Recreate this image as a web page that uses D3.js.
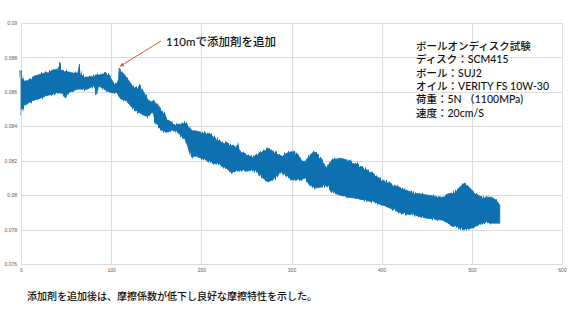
<!DOCTYPE html>
<html>
<head>
<meta charset="utf-8">
<script src="https://cdn.jsdelivr.net/npm/d3@7/dist/d3.min.js"></script>
<style>
  html, body { margin: 0; padding: 0; background: #ffffff; }
  svg { display: block; }
  .jp { font-family: Lato, "Noto Sans CJK JP", sans-serif; fill: #111111; font-weight: 500; }
  .tick-label { font-family: "Liberation Sans", Arial, sans-serif; font-size: 5px; fill: #595959; }
</style>
</head>
<body>
<svg id="chart" width="573" height="322"></svg>
<script>
// Sliding distance (m) at which the friction band was sampled
const distance = [0, 1, 3, 8, 15, 22, 30, 36, 41, 43, 45, 49, 52, 57, 63, 65, 67, 71, 76, 82, 84, 86, 90, 93, 98,
  102, 106, 108, 109, 111, 115, 119, 122, 126, 129, 132, 136, 141, 145, 147, 149, 153, 156, 160, 163, 167, 171, 176,
  182, 186, 189, 194, 200, 206, 212, 218, 223, 229, 234, 238, 240, 242, 245, 250, 256, 259, 267, 274, 282, 289, 295,
  302, 309, 315, 320, 326, 333, 339, 344, 354, 363, 370, 381, 392, 401, 407, 414, 422, 430, 437, 444, 451, 459, 467,
  473, 478, 483, 487, 492, 496, 500, 505, 511, 516, 522, 527, 531];

// Upper envelope of the friction coefficient trace
const muUpper = [0.08727, 0.08680, 0.08657, 0.08669, 0.08692, 0.08703, 0.08715, 0.08727, 0.08732, 0.08767, 0.08727,
  0.08721, 0.08715, 0.08709, 0.08709, 0.08762, 0.08703, 0.08686, 0.08686, 0.08698, 0.08698, 0.08698, 0.08703, 0.08709,
  0.08692, 0.08657, 0.08646, 0.08669, 0.08744, 0.08715, 0.08692, 0.08669, 0.08646, 0.08628, 0.08622, 0.08640, 0.08599,
  0.08552, 0.08541, 0.08552, 0.08535, 0.08517, 0.08494, 0.08465, 0.08436, 0.08424, 0.08407, 0.08413, 0.08424, 0.08401,
  0.08378, 0.08372, 0.08366, 0.08360, 0.08349, 0.08320, 0.08308, 0.08302, 0.08291, 0.08273, 0.08314, 0.08262, 0.08250,
  0.08233, 0.08221, 0.08233, 0.08250, 0.08273, 0.08250, 0.08227, 0.08244, 0.08256, 0.08221, 0.08186, 0.08233, 0.08250,
  0.08215, 0.08163, 0.08203, 0.08215, 0.08203, 0.08186, 0.08157, 0.08116, 0.08087, 0.08076, 0.08058, 0.08041, 0.08023,
  0.08012, 0.08006, 0.08000, 0.07994, 0.07988, 0.08006, 0.08012, 0.08029, 0.08047, 0.08070, 0.08052, 0.08029, 0.08006,
  0.07988, 0.07988, 0.07988, 0.07971, 0.07942];

// Lower envelope of the friction coefficient trace
const muLower = [0.08459, 0.08494, 0.08517, 0.08535, 0.08552, 0.08564, 0.08581, 0.08587, 0.08593, 0.08593, 0.08593,
  0.08564, 0.08593, 0.08605, 0.08616, 0.08616, 0.08616, 0.08611, 0.08622, 0.08634, 0.08581, 0.08634, 0.08622, 0.08611,
  0.08599, 0.08593, 0.08599, 0.08581, 0.08570, 0.08558, 0.08552, 0.08535, 0.08517, 0.08494, 0.08482, 0.08477, 0.08465,
  0.08453, 0.08482, 0.08471, 0.08424, 0.08395, 0.08378, 0.08366, 0.08366, 0.08378, 0.08372, 0.08355, 0.08320, 0.08262,
  0.08221, 0.08227, 0.08215, 0.08198, 0.08186, 0.08180, 0.08174, 0.08151, 0.08128, 0.08139, 0.08139, 0.08145, 0.08145,
  0.08139, 0.08145, 0.08145, 0.08105, 0.08076, 0.08099, 0.08134, 0.08105, 0.08087, 0.08087, 0.08099, 0.08058, 0.08041,
  0.08047, 0.08058, 0.08018, 0.08000, 0.07988, 0.07983, 0.07971, 0.07959, 0.07942, 0.07930, 0.07913, 0.07895, 0.07889,
  0.07884, 0.07872, 0.07866, 0.07860, 0.07855, 0.07837, 0.07826, 0.07814, 0.07808, 0.07797, 0.07802, 0.07808, 0.07820,
  0.07837, 0.07843, 0.07837, 0.07837, 0.07837];

const xTicks = [0, 100, 200, 300, 400, 500, 600];
const yTicks = [0.076, 0.078, 0.08, 0.082, 0.084, 0.086, 0.088, 0.09];

// Point where the additive was introduced
const additiveAt = { distance: 110, mu: 0.08749 };
const additiveNote = "110mで添加剤を追加";

const conditionLines = [
  "ボールオンディスク試験",
  "ディスク：SCM415",
  "ボール：SUJ2",
  "オイル：VERITY FS 10W-30",
  "荷重：5N （1100MPa)",
  "速度：20cm/S"
];
const caption = "添加剤を追加後は、摩擦係数が低下し良好な摩擦特性を示した。";

const svg = d3.select("#chart");
const x = d3.scaleLinear().domain([0, 600]).range([21, 562]);
const y = d3.scaleLinear().domain([0.076, 0.09]).range([264, 23]);

// Grid
const grid = svg.append("g").attr("stroke", "#dcdcdc").attr("stroke-width", 1);
grid.selectAll("line.h").data(yTicks).join("line").attr("class", "h")
  .attr("x1", x(0)).attr("x2", x(600))
  .attr("y1", d => Math.round(y(d)) + 0.5).attr("y2", d => Math.round(y(d)) + 0.5);
grid.selectAll("line.v").data(xTicks).join("line").attr("class", "v")
  .attr("y1", y(0.09)).attr("y2", y(0.076))
  .attr("x1", d => Math.round(x(d)) + 0.5).attr("x2", d => Math.round(x(d)) + 0.5);

// Axis labels
const yAxis = d3.axisLeft(y).tickValues(yTicks).tickSize(0).tickPadding(4).tickFormat(d => String(d));
const gy = svg.append("g").attr("transform", `translate(${x(0)},0)`).call(yAxis);
gy.select(".domain").remove();
gy.selectAll("text").attr("class", "tick-label").attr("font-size", null).attr("font-family", null);

const xAxis = d3.axisBottom(x).tickValues(xTicks).tickSize(0).tickPadding(4).tickFormat(d => String(d));
const gx = svg.append("g").attr("transform", `translate(0,${y(0.076)})`).call(xAxis);
gx.select(".domain").remove();
gx.selectAll("text").attr("class", "tick-label").attr("font-size", null).attr("font-family", null);

// Fine vertical texture for the dense sensor trace edges
const defs = svg.append("defs");
const rough = defs.append("filter").attr("id", "rough")
  .attr("x", "-2%").attr("y", "-10%").attr("width", "104%").attr("height", "120%");
rough.append("feTurbulence").attr("type", "fractalNoise")
  .attr("baseFrequency", "0.9 0.01").attr("numOctaves", 2).attr("seed", 3).attr("result", "n");
rough.append("feDisplacementMap").attr("in", "SourceGraphic").attr("in2", "n")
  .attr("scale", 4).attr("xChannelSelector", "A").attr("yChannelSelector", "R");

// Friction coefficient band
const band = distance.map((d, i) => ({ d, hi: muUpper[i], lo: muLower[i] }));
const area = d3.area().x(p => x(p.d)).y0(p => y(p.lo)).y1(p => y(p.hi));
svg.append("path").datum(band)
  .attr("d", area)
  .attr("fill", "#0e70b0")
  .attr("stroke", "#0e70b0")
  .attr("stroke-width", 0.8)
  .attr("filter", "url(#rough)");

// Annotation arrow
defs.append("marker").attr("id", "arrowhead")
  .attr("viewBox", "0 0 10 10").attr("refX", 9).attr("refY", 5)
  .attr("markerWidth", 4).attr("markerHeight", 4).attr("orient", "auto")
  .append("path").attr("d", "M0,0L10,5L0,10z").attr("fill", "#e5532f");

const noteX = 166, noteY = 46;
svg.append("line")
  .attr("x1", noteX - 5).attr("y1", noteY - 5)
  .attr("x2", x(additiveAt.distance)).attr("y2", y(additiveAt.mu))
  .attr("stroke", "#e5532f").attr("stroke-width", 1)
  .attr("marker-end", "url(#arrowhead)");
svg.append("text").attr("class", "jp")
  .attr("x", noteX).attr("y", noteY)
  .attr("font-size", 11.5)
  .text(additiveNote);

// Test conditions
svg.append("g").selectAll("text").data(conditionLines).join("text")
  .attr("class", "jp")
  .attr("x", 416)
  .attr("y", (d, i) => 50 + i * 13.3)
  .attr("font-size", 10.5)
  .text(d => d);

// Caption
svg.append("text").attr("class", "jp")
  .attr("x", 27).attr("y", 300)
  .attr("font-size", 10)
  .text(caption);
</script>
</body>
</html>
